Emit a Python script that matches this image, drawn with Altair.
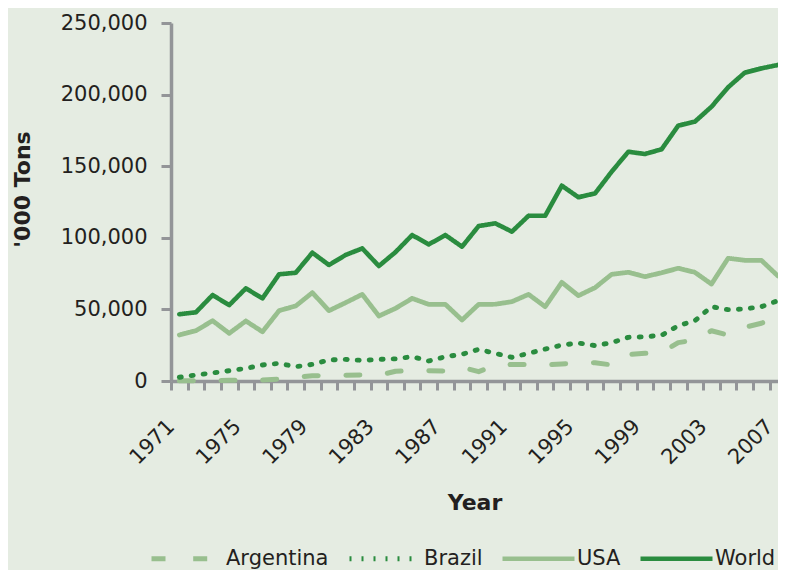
import altair as alt
import pandas as pd

years = list(range(1971, 2008))
series_names = ["Argentina", "Brazil", "USA", "World"]

world = [46600, 48000, 60000, 53000, 64700, 57700, 74500, 75600, 89600, 81000,
         88000, 92600, 80300, 90000, 101900, 95400, 101900, 93800, 108200, 110100,
         104300, 115400, 115400, 136400, 128300, 131000, 146200, 160100, 158500, 161800,
         178300, 181100, 191500, 205100, 215300, 218300, 220700]
usa = [32100, 35100, 42100, 33300, 41900, 34400, 49100, 52400, 61700, 49100,
       54700, 60500, 45400, 50700, 57700, 53500, 53500, 42600, 53500, 53600,
       55400, 60500, 51900, 68900, 59600, 65200, 74500, 75900, 72800, 75600,
       78700, 75900, 67700, 85700, 84300, 84300, 73300]
brazil = [2600, 4200, 5600, 7200, 8800, 11200, 12300, 10000, 11600, 14700,
          15100, 14400, 15100, 15500, 17000, 14000, 17000, 18600, 22100, 19300,
          16500, 19300, 22300, 25100, 26500, 24700, 26800, 30500, 30900, 31900,
          38600, 42100, 51900, 49800, 50300, 51900, 56100]
argentina = [100, 100, 300, 500, 500, 700, 1400, 2500, 3700, 3500,
             4000, 4200, 4000, 6800, 7200, 7200, 7000, 9500, 6500, 11000,
             11500, 11500, 11200, 11900, 12500, 12800, 11200, 18500, 19300, 19800,
             26800, 28600, 35100, 32100, 37500, 40300, 45800]

values_by_series = {"Argentina": argentina, "Brazil": brazil, "USA": usa, "World": world}
rows = []
for name in series_names:
    for yr, v in zip(years, values_by_series[name]):
        rows.append({"Year": yr, "Tons": v, "Series": name})
df = pd.DataFrame(rows)

y_ticks = [0, 50000, 100000, 150000, 200000, 250000]
x_tick_values = [1970.5 + i for i in range(37)]

dark = "#2a8c3f"
light = "#98bf8e"
font = "DejaVu Sans"
text_color = "#231f20"
axis_gray = "#939598"

legend = alt.Legend(
    title=None,
    orient="none",
    direction="horizontal",
    legendX=-22,
    legendY=497,
    symbolType="stroke",
    symbolSize=5184,
    labelFontSize=21,
    labelFont=font,
    labelColor=text_color,
    labelOffset=0,
    columnPadding=10,
    padding=0,
)

chart = alt.Chart(df).mark_line(strokeCap="round", strokeJoin="round").encode(
    x=alt.X(
        "Year:Q",
        scale=alt.Scale(domain=[1970.5, 2007.0], nice=False, zero=False),
        axis=alt.Axis(
            values=x_tick_values,
            labelExpr="((datum.value - 1970.5) % 4 == 0) ? toString(datum.value + 0.5) : ''",
            labelAngle=-45,
            labelAlign="right",
            labelBaseline="middle",
            labelOffset=0,
            labelPadding=33,
            labelOverlap=False,
            labelBound=False,
            labelFlush=False,
            tickSize=9,
            title="Year",
            titleFontSize=22,
            titleFontWeight="bold",
            titleY=121,
            titleBaseline="middle",
        ),
    ),
    y=alt.Y(
        "Tons:Q",
        scale=alt.Scale(domain=[0, 250000], nice=False),
        axis=alt.Axis(
            values=y_ticks,
            format=",d",
            labelPadding=14,
            tickSize=10,
            title="'000 Tons",
            titleFontSize=22,
            titleFontWeight="bold",
            titleAngle=270,
            titleX=-149,
            titleY=166,
            titleAlign="center",
            titleBaseline="middle",
        ),
    ),
    color=alt.Color(
        "Series:N",
        scale=alt.Scale(domain=series_names, range=[light, dark, light, dark]),
        legend=legend,
    ),
    strokeDash=alt.StrokeDash(
        "Series:N",
        scale=alt.Scale(domain=series_names, range=[[14, 27.7], [2, 10], [1, 0], [1, 0]]),
        legend=legend,
    ),
    strokeWidth=alt.StrokeWidth(
        "Series:N",
        scale=alt.Scale(domain=series_names, range=[5, 4.6, 4.6, 5.2]),
        legend=legend,
    ),
).properties(
    width=607,
    height=358,
    autosize=alt.AutoSizeParams(type="none"),
    padding={"left": 163, "top": 15, "right": 0, "bottom": 189},
    background="#e5ece2",
).configure_view(
    stroke=None
).configure_axis(
    grid=False,
    domainColor=axis_gray,
    domainWidth=3.5,
    tickColor=axis_gray,
    tickWidth=3,
    labelFont=font,
    labelFontSize=21,
    labelColor=text_color,
    titleFont=font,
    titleColor=text_color,
)

chart.save("out.html", embed_options={"renderer": "svg", "actions": False})
